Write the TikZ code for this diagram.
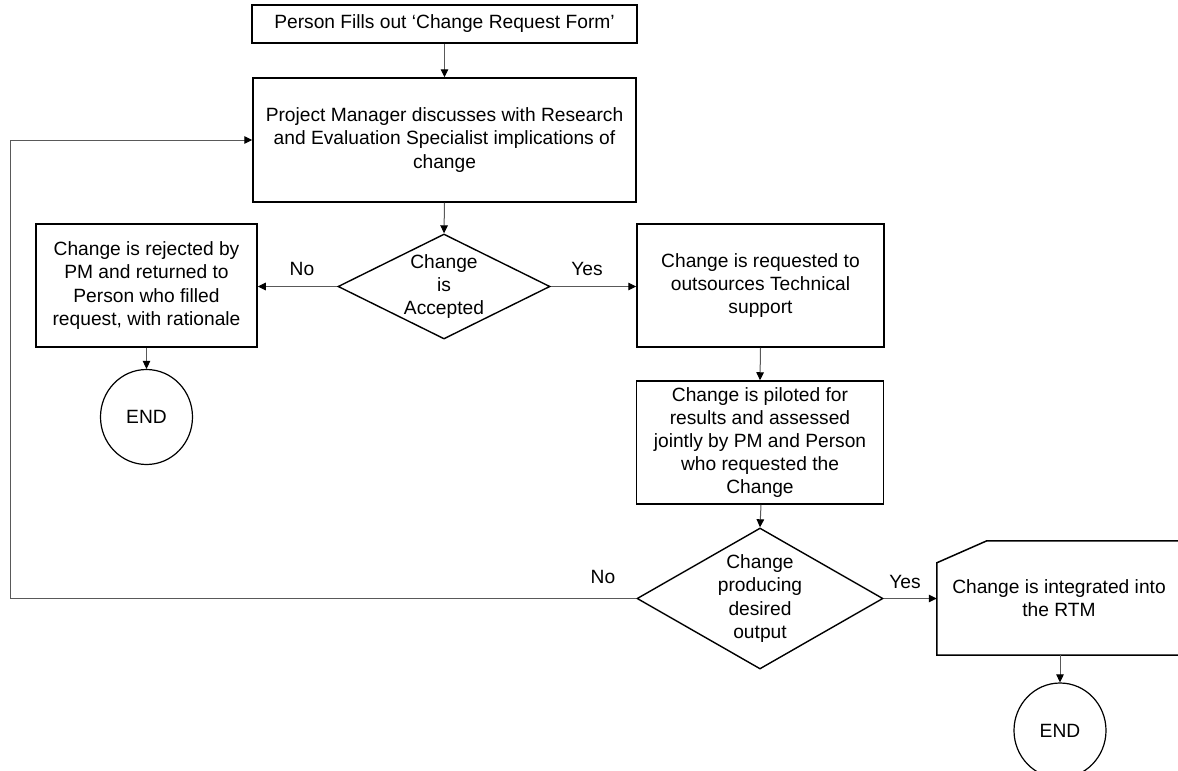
\documentclass[tikz,border=0pt]{standalone}
\usepackage{fontspec}
\setmainfont{Liberation Sans}
\usetikzlibrary{shapes.geometric,arrows.meta}
\begin{document}
\begin{tikzpicture}[x=1pt,y=-1pt,
  every node/.style={font=\fontsize{19.2}{23.2}\selectfont, align=center, inner sep=0pt},
  box/.style={draw=black, line width=1.5pt, rectangle},
  dia/.style={draw=black, line width=1.4pt, diamond},
  term/.style={draw=black, line width=1.2pt, ellipse, minimum width=92, minimum height=95},
  conn/.style={draw=black!65, line width=1pt, -{Triangle[length=8pt,width=7.5pt,fill=black,color=black]}},
  plain/.style={draw=black!65, line width=1pt}]
\fill[white] (0,0) rectangle (1178,771);
\clip (0,0) rectangle (1178,771);

% process boxes
\node[box, minimum width=385, minimum height=38] (form) at (444.5,24) {Person Fills out ‘Change Request Form’};
\node[box, minimum width=383, minimum height=124] (discuss) at (444.5,140)
  {Project Manager discusses with Research\\and Evaluation Specialist implications of\\change};
\node[dia, minimum width=212, minimum height=105] (accept) at (444,286.5) {};
\node (accepttxt) at (accept.center) {Change\\is\\Accepted};

\node[box, minimum width=221, minimum height=123] (reject) at (146.5,285.5)
  {Change is rejected by\\PM and returned to\\Person who filled\\request, with rationale};
\node[term] (end1) at (146.5,417) {END};

\node[box, minimum width=247, minimum height=123] (outsrc) at (760.5,285.5)
  {Change is requested to\\outsources Technical\\support};
\node[box, minimum width=247, minimum height=123] (pilot) at (760,442.5)
  {Change is piloted for\\results and assessed\\jointly by PM and Person\\who requested the\\Change};

\node[dia, minimum width=246, minimum height=141] (desired) at (760,598.5) {};
\node (desiredtxt) at (desired.center) {Change\\producing\\desired\\output};

% manual input shape for the RTM step
\node[minimum width=244, minimum height=114] (rtm) at (1059,598) {Change is integrated into\\the RTM};
\draw[black, line width=1.5pt] ([yshift=-22pt]rtm.north west) -- ([xshift=50pt]rtm.north west)
  -- (rtm.north east) -- (rtm.south east) -- (rtm.south west) -- cycle;
\node[term] (end2) at (1060,730.5) {END};

% decision labels
\node (no1) at (302,269) {No};
\node (yes1) at (587,269) {Yes};
\node (no2) at (603,577) {No};
\node (yes2) at (905,582) {Yes};

% connectors
\draw[conn] (form.south) -- (discuss.north);
\draw[conn] (discuss.south) -- (accept.north);
\draw[conn] (accept.west) -- (accept.west -| reject.east);
\draw[conn] (accept.east) -- (accept.east -| outsrc.west);
\draw[conn] (reject.south) -- (end1.north);
\draw[conn] (outsrc.south) -- (pilot.north);
\draw[conn] ([xshift=1pt]pilot.south) -- (desired.north);
\draw[conn] (desired.east) -- (desired.east -| rtm.west);
\draw[conn] (rtm.south -| end2.north) -- (end2.north);
\coordinate (loopb) at (10,598.5);
\coordinate (loopt) at (10,140);
\draw[conn] (desired.west) -- (loopb) -- (loopt) -- (discuss.west);
\end{tikzpicture}
\end{document}
